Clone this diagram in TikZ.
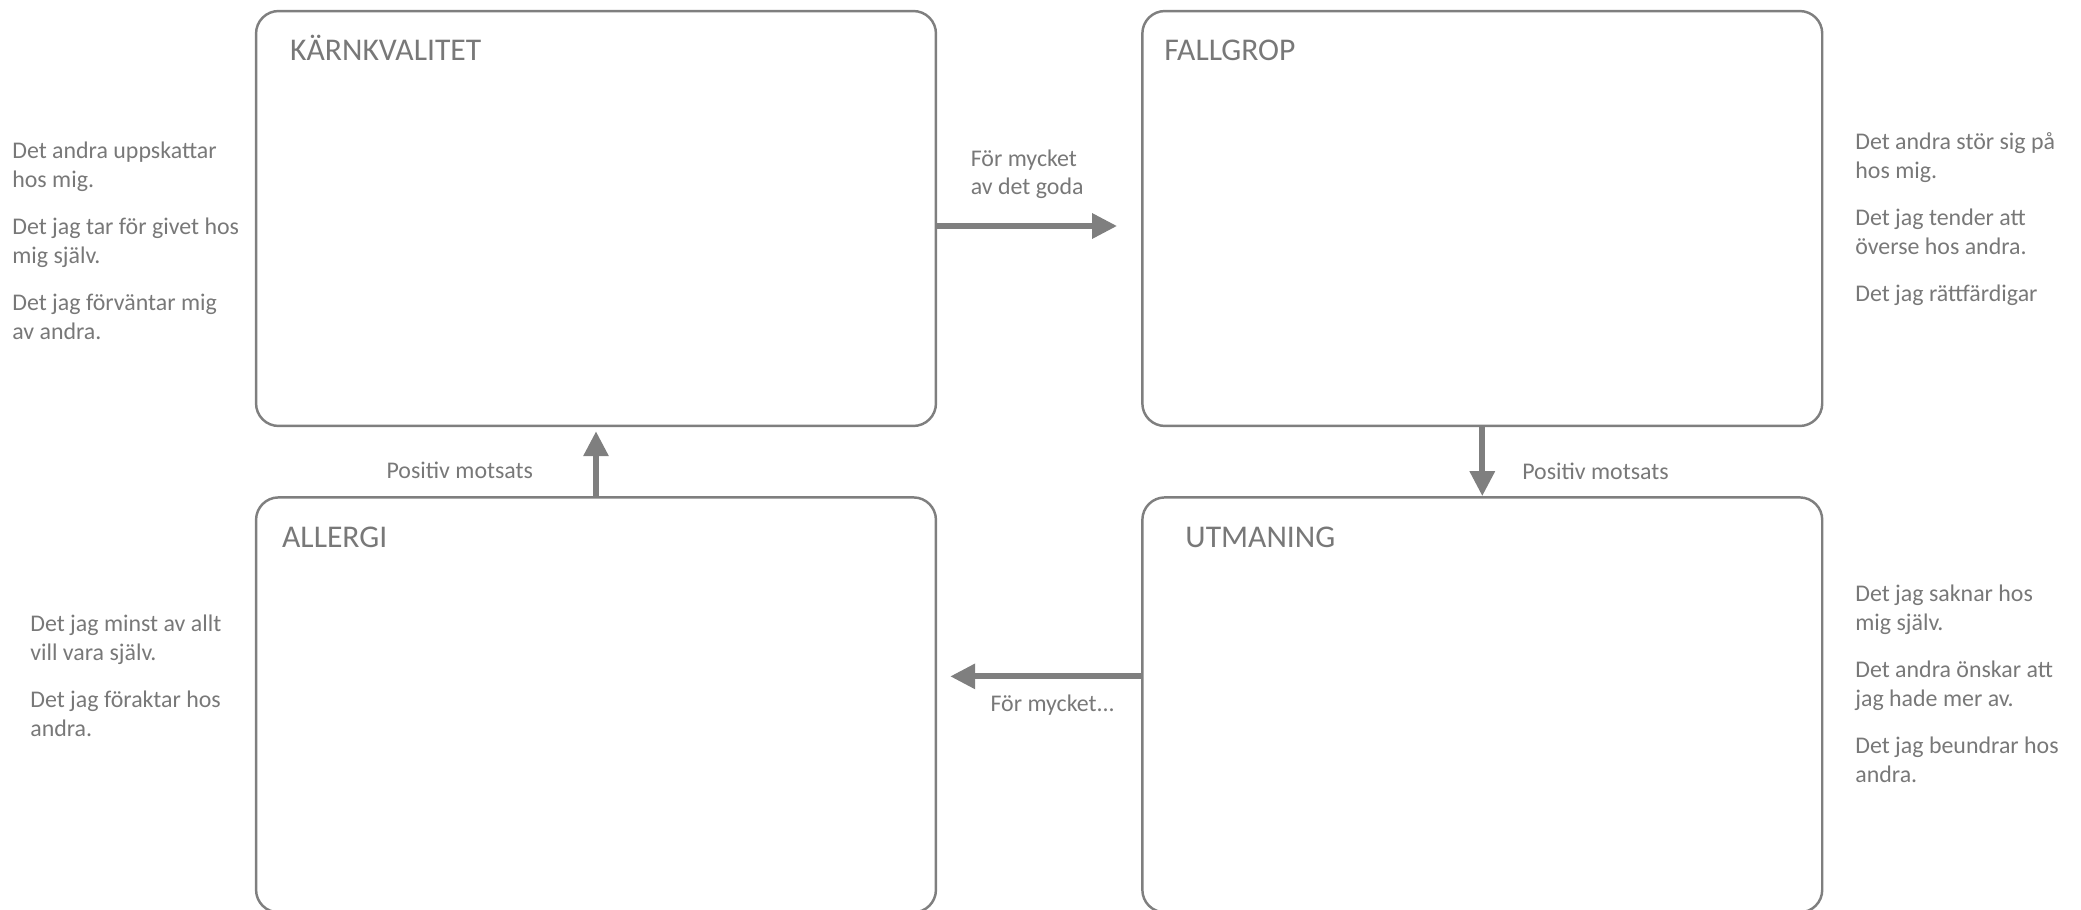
\documentclass[tikz,border=0pt]{standalone}
\usepackage{fontspec}
\setmainfont{Carlito}
\usetikzlibrary{positioning, arrows.meta}
\definecolor{linegray}{RGB}{127,127,127}
\definecolor{textgray}{RGB}{120,120,120}
\begin{document}
\begin{tikzpicture}[x=0.02cm, y=-0.02cm,
    box/.style={draw=linegray, line width=1.4pt, rounded corners=0.45cm,
        minimum width=13.6cm, minimum height=8.3cm, inner sep=0pt},
    title/.style={text=textgray, font=\fontsize{18}{21}\selectfont, inner sep=0pt},
    side/.style={text=textgray, font=\fontsize{13.6}{16.4}\selectfont, align=left, inner sep=0pt},
    lbl/.style={text=textgray, font=\fontsize{13.6}{16.4}\selectfont, inner sep=0pt},
    arrow/.style={draw=linegray, line width=3.4pt, -{Triangle[length=0.5cm, width=0.48cm]}}]
    \useasboundingbox (0,0) rectangle (2081,909);

    \node[box] (kvalitet) at (596,218.5) {};
    \node[box, right=4.08cm of kvalitet] (fallgrop) {};
    \node[box, below=1.38cm of kvalitet] (allergi) {};
    \node[box, below=1.38cm of fallgrop] (utmaning) {};

    \foreach \bname/\btitle/\bdx in {kvalitet/KÄRNKVALITET/0.7, fallgrop/FALLGROP/0.46,
        allergi/ALLERGI/0.54, utmaning/UTMANING/0.88}
    {
        \node[title, anchor=base west] (\bname-title) at ([xshift=\bdx cm, yshift=-1.02cm]\bname.north west) {\btitle};
    }

    \draw[arrow] ([yshift=-0.15cm]kvalitet.east) -- node[lbl, align=left, above=0.48cm] (goda) {För mycket\\av det goda} ([xshift=-0.48cm, yshift=-0.15cm]fallgrop.west);
    \draw[arrow] (fallgrop.south) -- node[lbl, pos=0.64, right=0.74cm] (motsats-r) {Positiv motsats} (utmaning.north);
    \draw[arrow] ([yshift=0.57cm]utmaning.west) -- node[lbl, below=0.32cm, xshift=0.14cm] (mycket) {För mycket...} ([xshift=0.26cm, yshift=0.57cm]allergi.east);
    \draw[arrow] (allergi.north) -- node[lbl, pos=0.4, left=1.2cm] (motsats-l) {Positiv motsats} ([yshift=-0.08cm]kvalitet.south);

    % the texts beside the boxes (base = last line)
    \node[side, anchor=base west] (kvalitet-text) at (12,339) {Det andra uppskattar\\hos mig.\\[0.36cm]Det jag tar för givet hos\\mig själv.\\[0.36cm]Det jag förväntar mig\\av andra.};
    \node[side, anchor=base west] (fallgrop-text) at (1855,301) {Det andra stör sig på\\hos mig.\\[0.36cm]Det jag tender att\\överse hos andra.\\[0.36cm]Det jag rättfärdigar};
    \node[side, anchor=base west] (allergi-text) at (30,736) {Det jag minst av allt\\vill vara själv.\\[0.36cm]Det jag föraktar hos\\andra.};
    \node[side, anchor=base west] (utmaning-text) at (1855,782) {Det jag saknar hos\\mig själv.\\[0.36cm]Det andra önskar att\\jag hade mer av.\\[0.36cm]Det jag beundrar hos\\andra.};
\end{tikzpicture}
\end{document}
